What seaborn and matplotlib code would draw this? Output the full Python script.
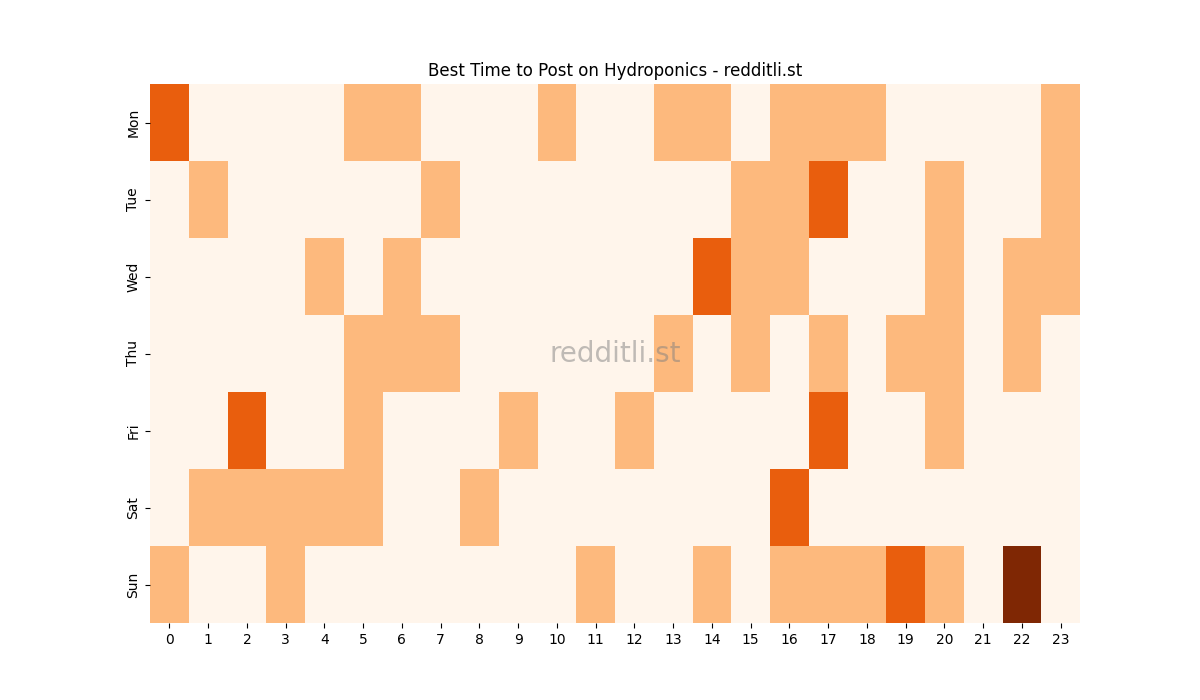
import matplotlib
matplotlib.use("Agg")
import matplotlib.pyplot as plt
import seaborn as sns
import numpy as np
import pandas as pd

days = ["Mon", "Tue", "Wed", "Thu", "Fri", "Sat", "Sun"]
hours = list(range(24))
mon = [2,0,0,0,0,1,1,0,0,0,1,0,0,1,1,0,1,1,1,0,0,0,0,1]
tue = [0,1,0,0,0,0,0,1,0,0,0,0,0,0,0,1,1,2,0,0,1,0,0,1]
wed = [0,0,0,0,1,0,1,0,0,0,0,0,0,0,2,1,1,0,0,0,1,0,1,1]
thu = [0,0,0,0,0,1,1,1,0,0,0,0,0,1,0,1,0,1,0,1,1,0,1,0]
fri = [0,0,2,0,0,1,0,0,0,1,0,0,1,0,0,0,0,2,0,0,1,0,0,0]
sat = [0,1,1,1,1,1,0,0,1,0,0,0,0,0,0,0,2,0,0,0,0,0,0,0]
sun = [1,0,0,1,0,0,0,0,0,0,0,1,0,0,1,0,1,1,1,2,1,0,3,0]

df = pd.DataFrame([mon, tue, wed, thu, fri, sat, sun], index=days, columns=hours)

fig, ax = plt.subplots(figsize=(12, 7), dpi=100)
sns.heatmap(df, cmap="Oranges", cbar=False, ax=ax, vmin=0, vmax=3)
ax.set_title("Best Time to Post on Hydroponics - redditli.st")
ax.text(0.5, 0.5, "redditli.st", transform=ax.transAxes, ha="center", va="center",
        fontsize=20, color="gray", alpha=0.5)
plt.savefig("out.png", dpi=100)
